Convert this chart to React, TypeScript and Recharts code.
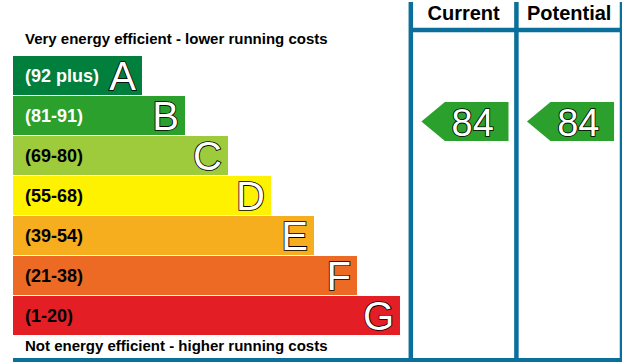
import { BarChart, Bar, XAxis, YAxis, ReferenceLine, ReferenceArea, Customized } from "recharts";

// EPC bands, best to worst
const bands = ["A", "B", "C", "D", "E", "F", "G"];
const ranges = ["(92 plus)", "(81-91)", "(69-80)", "(55-68)", "(39-54)", "(21-38)", "(1-20)"];
const minScores = [92, 81, 69, 55, 39, 21, 1];
const barSteps = [3, 4, 5, 6, 7, 8, 9];
const bandColors = ["#007f3d", "#2ca02c", "#9dcb3c", "#fff200", "#f6ad1e", "#ec6a24", "#e31e24"];
const rangeTextColors = ["#fff", "#fff", "#000", "#000", "#000", "#000", "#000"];

const columns = ["Current", "Potential"];
const scores = [84, 84];

const data = bands.map((band, i) => ({
    band,
    range: ranges[i],
    step: barSteps[i],
    color: bandColors[i],
    textColor: rangeTextColors[i],
}));

const bandFor = (score: number) => bands[minScores.findIndex((m) => score >= m)];

const FONT = "'Liberation Sans', Arial, sans-serif";
const BLUE = "#0b6f9c";
const W = 622;
const H = 363;
const PX_PER_STEP = 43;
const BAR_DOMAIN = (W - 13) / PX_PER_STEP;
// panel axis: column i spans [i, i + 1]
const PANEL_UNIT = (621.5 - 410.5) / 2;
const PANEL_MIN = -(410.5 - 13) / PANEL_UNIT;

const BandBar = (props: any) => {
    const { x, y, width, height, payload } = props;
    const cy = y + height / 2;
    return (
        <g>
            <rect x={x} y={y} width={width} height={height} fill={payload.color} />
            <text x={x + 12} y={cy + 6.5} fill={payload.textColor} fontFamily={FONT} fontWeight="bold" fontSize={18}>
                {payload.range}
            </text>
            <text
                x={x + width - 6}
                y={cy + 14.5}
                textAnchor="end"
                fill="#fff"
                stroke="#000"
                strokeWidth={1.7}
                paintOrder="stroke"
                fontFamily={FONT}
                fontSize={40}
            >
                {payload.band}
            </text>
        </g>
    );
};

const arrowShape = (score: number) => (props: any) => {
    const { x, y, width, height } = props;
    const top = y + 7;
    const h = height - 1;
    const body = x + width * 0.27;
    const right = x + width;
    const pts = `${x},${top + h / 2} ${body},${top} ${right},${top} ${right},${top + h} ${body},${top + h}`;
    return (
        <g>
            <polygon points={pts} fill="#2ca02c" />
            <text
                x={(body + right) / 2 - 4}
                y={top + h / 2 + 14}
                textAnchor="middle"
                fill="#fff"
                stroke="#000"
                strokeWidth={1.7}
                paintOrder="stroke"
                fontFamily={FONT}
                fontSize={38}
            >
                {score}
            </text>
        </g>
    );
};

const headerShape = (title: string) => (props: any) => {
    const { x, width } = props;
    return (
        <g>
            <text x={x + width / 2} y={20} textAnchor="middle" fill="#000" fontFamily={FONT} fontWeight="bold" fontSize={20}>
                {title}
            </text>
            <line x1={x} x2={x + width} y1={30} y2={30} stroke={BLUE} strokeWidth={4.5} />
        </g>
    );
};

const panelLine = (props: any) => (
    <line x1={props.x1} x2={props.x2} y1={2} y2={362} stroke={BLUE} strokeWidth={4.5} />
);

const Frame = () => (
    <g>
        <text x={25} y={44} fill="#000" fontFamily={FONT} fontWeight="bold" fontSize={15}>
            Very energy efficient - lower running costs
        </text>
        <text x={25} y={351} fill="#000" fontFamily={FONT} fontWeight="bold" fontSize={15}>
            Not energy efficient - higher running costs
        </text>
        <line x1={13} x2={W} y1={360} y2={360} stroke={BLUE} strokeWidth={4} />
    </g>
);

export default function App() {
    return (
        <div style={{ position: "absolute", left: 0, top: 0, width: W, height: H, background: "#fff" }}>
            <BarChart
                width={W}
                height={H}
                data={data}
                layout="vertical"
                margin={{ top: 55, right: 0, bottom: 28, left: 13 }}
            >
                <XAxis xAxisId="bar" type="number" domain={[0, BAR_DOMAIN]} hide allowDataOverflow />
                <XAxis xAxisId="panel" type="number" domain={[PANEL_MIN, 2]} hide allowDataOverflow />
                <YAxis type="category" dataKey="band" hide />
                <Bar xAxisId="bar" dataKey="step" barSize={39} shape={BandBar} isAnimationActive={false} />
                {[0, 1, 2].map((v) => (
                    <ReferenceLine key={v} xAxisId="panel" x={v} ifOverflow="visible" shape={panelLine} />
                ))}
                {columns.map((c, i) => (
                    <ReferenceArea key={c} xAxisId="panel" x1={i} x2={i + 1} ifOverflow="visible" shape={headerShape(c)} />
                ))}
                {scores.map((s, i) => (
                    <ReferenceArea
                        key={columns[i]}
                        xAxisId="panel"
                        x1={i + 0.1}
                        x2={i + 0.925}
                        y1={bandFor(s)}
                        y2={bandFor(s)}
                        ifOverflow="visible"
                        shape={arrowShape(s)}
                    />
                ))}
                <Customized component={Frame} />
            </BarChart>
        </div>
    );
}
